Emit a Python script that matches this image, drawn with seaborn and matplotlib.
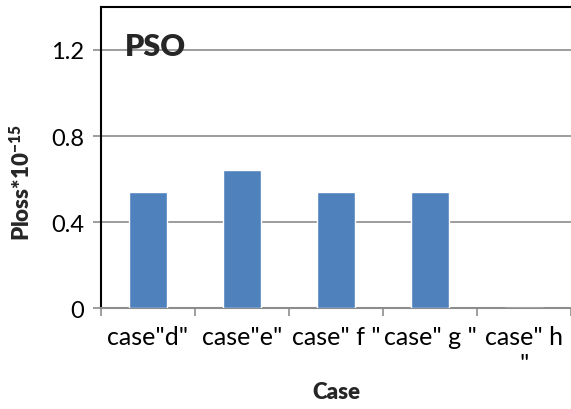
import matplotlib
matplotlib.use("Agg")
import matplotlib.pyplot as plt
import seaborn as sns
import pandas as pd
import numpy as np

# data
cases = ['case"d"', 'case"e"', 'case" f "', 'case" g "', 'case" h\n"']
ploss = [0.54, 0.64, 0.54, 0.54, 0.0]

sns.set_theme(style="white")
plt.rcParams["font.family"] = ["Lato", "DejaVu Sans"]
plt.rcParams["mathtext.fontset"] = "custom"
plt.rcParams["mathtext.rm"] = "Lato"
plt.rcParams["mathtext.bf"] = "Lato:heavy"

df = pd.DataFrame({"case": cases, "ploss": ploss})

fig = plt.figure(figsize=(5.71, 4.10), dpi=100)
ax = fig.add_axes([0.1769, 0.2463, 0.8231, 0.7342])

sns.barplot(data=df, x="case", y="ploss", color="#4F81BD", saturation=1,
            width=0.4, ax=ax, zorder=3)

ax.set_ylim(0, 1.4)
ax.set_xlim(-0.5, len(cases) - 0.5)
ax.set_yticks([0, 0.4, 0.8, 1.2])
ax.set_yticklabels(["0", "0.4", "0.8", "1.2"])
ax.yaxis.grid(True, color="#8c8c8c", linewidth=1.2, zorder=0)

# category ticks sit on the boundaries, labels in the middle
ax.set_xticks(np.arange(-0.5, len(cases)), minor=True)
ax.tick_params(axis="x", which="major", bottom=False, length=0, pad=12,
               labelsize=18, labelcolor="black")
ax.tick_params(axis="x", which="minor", bottom=True, length=6, width=1.2,
               color="#8c8c8c", direction="out")
ax.tick_params(axis="y", left=True, length=6, width=1.2, color="#8c8c8c",
               direction="out", labelsize=17, pad=6, labelcolor="black")

for s in ["top", "left"]:
    ax.spines[s].set_color("black")
    ax.spines[s].set_linewidth(1.5)
ax.spines["bottom"].set_color("#8c8c8c")
ax.spines["bottom"].set_linewidth(1.5)
ax.spines["right"].set_visible(False)

for lab in ax.get_xticklabels():
    lab.set_linespacing(1.25)

ax.set_xlabel("Case", fontsize=16, fontweight="heavy", labelpad=4)
ax.set_ylabel(r"Ploss*10$^{\mathbf{-15}}$", fontsize=16, fontweight="heavy")
ax.yaxis.set_label_coords(-0.143, 0.42)

ax.text(0.05, 0.87, "PSO", transform=ax.transAxes, fontsize=22, fontweight="heavy",
        va="center", ha="left", zorder=5)

fig.savefig("out.png", dpi=100, facecolor="white")
